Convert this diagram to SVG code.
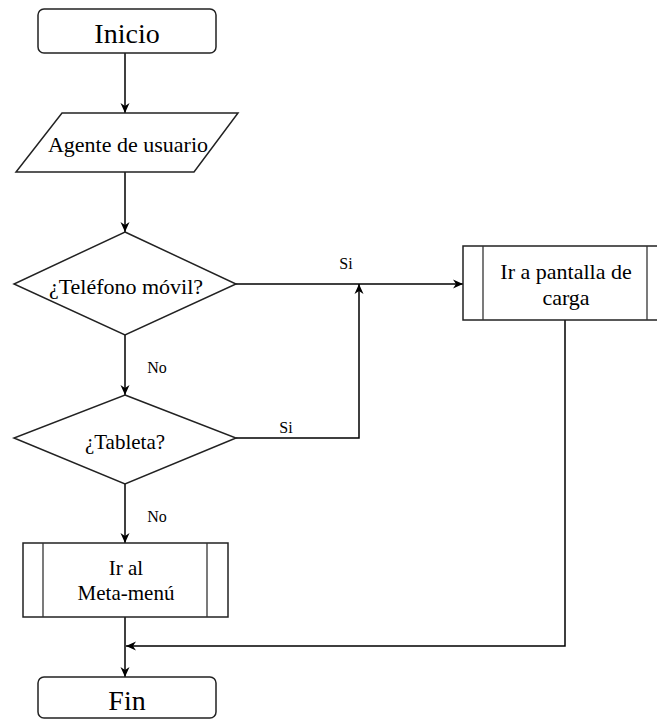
<svg xmlns="http://www.w3.org/2000/svg" width="657" height="719" viewBox="0 0 657 719">
<style>
.shape{fill:#fff;stroke:#222;stroke-width:1.5}
.inner{stroke:#333;stroke-width:1.3}
.edge{fill:none;stroke:#000;stroke-width:1.5}
.t{font-family:"Liberation Serif","Times New Roman",serif;fill:#000;text-anchor:middle}
.big{font-size:28px}
.mid{font-size:22px}
.sm{font-size:21px}
.lbl{font-size:16px}
</style>
<defs>
<marker id="arr" markerUnits="userSpaceOnUse" markerWidth="12" markerHeight="10" refX="10" refY="5" orient="auto">
<path d="M0,0.5 L10,5 L0,9.5 L3,5 z" fill="#000"/>
</marker>
</defs>
<rect width="657" height="719" fill="#fff"/>
<g id="connectors">
<line class="edge" x1="125" y1="53" x2="125" y2="113" marker-end="url(#arr)"/>
<line class="edge" x1="125" y1="172" x2="125" y2="232" marker-end="url(#arr)"/>
<line class="edge" x1="236" y1="284" x2="463" y2="284" marker-end="url(#arr)"/>
<line class="edge" x1="125" y1="335" x2="125" y2="395" marker-end="url(#arr)"/>
<polyline class="edge" points="236,438 359,438 359,284" marker-end="url(#arr)"/>
<line class="edge" x1="125" y1="484" x2="125" y2="543" marker-end="url(#arr)"/>
<line class="edge" x1="125" y1="617" x2="125" y2="677" marker-end="url(#arr)"/>
<polyline class="edge" points="565,320 565,646 126,646" marker-end="url(#arr)"/>
<text class="t lbl" x="346" y="269">Si</text>
<text class="t lbl" x="286" y="433">Si</text>
<text class="t lbl" x="157" y="373">No</text>
<text class="t lbl" x="157" y="522">No</text>
</g>
<g id="inicio">
<rect class="shape" x="38" y="9" width="178" height="44" rx="6"/>
<text class="t big" x="127" y="43">Inicio</text>
</g>
<g id="agente">
<polygon class="shape" points="62,113 238,113 194,172 16,172"/>
<text class="t mid" x="128" y="152">Agente de usuario</text>
</g>
<g id="telefono">
<polygon class="shape" points="125,232 236,284 125,335 14,284"/>
<text class="t mid" x="126" y="294">¿Teléfono móvil?</text>
</g>
<g id="tableta">
<polygon class="shape" points="125,395 236,438 125,484 14,438"/>
<text class="t sm" x="125" y="449">¿Tableta?</text>
</g>
<g id="pantalla">
<rect class="shape" x="463" y="246" width="204" height="74"/>
<line class="inner" x1="483" y1="246" x2="483" y2="320"/>
<line class="inner" x1="647" y1="246" x2="647" y2="320"/>
<text class="t mid" x="566" y="279">Ir a pantalla de</text>
<text class="t mid" x="566" y="305">carga</text>
</g>
<g id="metamenu">
<rect class="shape" x="23" y="543" width="205" height="74"/>
<line class="inner" x1="43" y1="543" x2="43" y2="617"/>
<line class="inner" x1="207" y1="543" x2="207" y2="617"/>
<text class="t sm" x="126" y="575">Ir al</text>
<text class="t sm" x="126" y="600">Meta-menú</text>
</g>
<g id="fin">
<rect class="shape" x="38" y="677" width="178" height="41" rx="6"/>
<text class="t big" x="127" y="710">Fin</text>
</g>
</svg>
